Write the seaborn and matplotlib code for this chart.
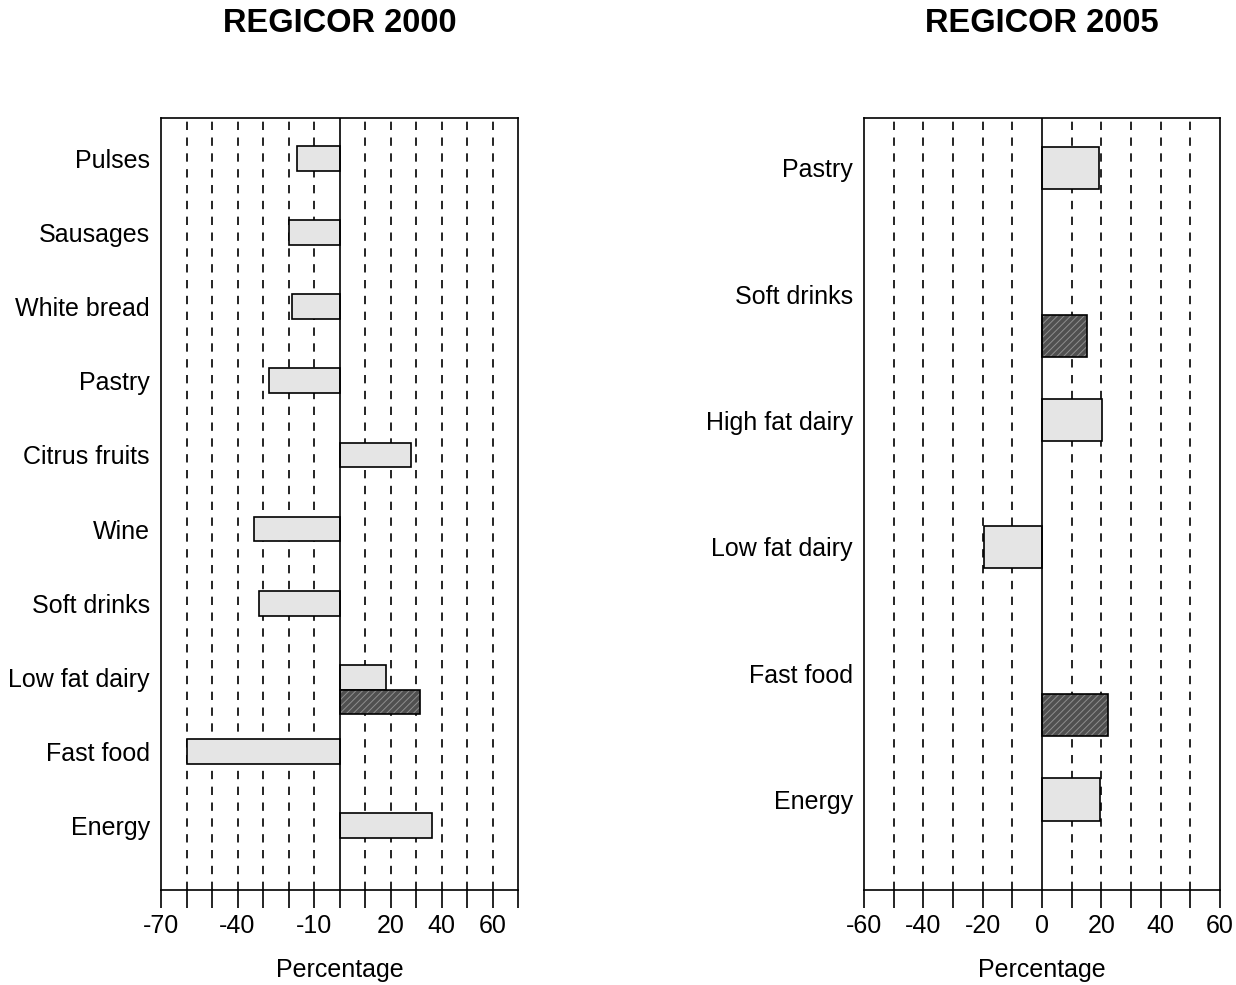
import numpy as np
import pandas as pd
import matplotlib
matplotlib.use("Agg")
import matplotlib.pyplot as plt
import matplotlib.colors as mcolors
import seaborn as sns

nan = np.nan

# ---- data -------------------------------------------------------------
cats_2000 = ["Pulses", "Sausages", "White bread", "Pastry", "Citrus fruits",
             "Wine", "Soft drinks", "Low fat dairy", "Fast food", "Energy"]
light_2000 = [-16.6, -19.7, -18.6, -27.8, 28.0, -33.5, -31.5, 18.4, -60.0, 36.4]
dark_2000 = [nan, nan, nan, nan, nan, nan, nan, 31.5, nan, nan]

cats_2005 = ["Pastry", "Soft drinks", "High fat dairy", "Low fat dairy",
             "Fast food", "Energy"]
light_2005 = [19.3, nan, 20.3, -19.7, nan, 19.4]
dark_2005 = [nan, 15.1, nan, nan, 22.4, nan]

ticks_2000 = [-70, -60, -50, -40, -30, -20, -10, 0, 10, 20, 30, 40, 50, 60, 70]
ticklabels_2000 = ["-70", "", "", "-40", "", "", "-10", "", "", "20", "", "40", "", "60", ""]
ticks_2005 = [-60, -50, -40, -30, -20, -10, 0, 10, 20, 30, 40, 50, 60]
ticklabels_2005 = ["-60", "", "-40", "", "-20", "", "0", "", "20", "", "40", "", "60"]

titles = ["REGICOR 2000", "REGICOR 2005"]
series_names = ["light", "dark"]

# ---- style ------------------------------------------------------------
sns.set_style("white")
plt.rcParams["font.family"] = ["Liberation Sans", "DejaVu Sans"]
plt.rcParams["hatch.linewidth"] = 0.7
plt.rcParams["text.color"] = "black"
plt.rcParams["axes.labelcolor"] = "black"
plt.rcParams["xtick.color"] = "black"
plt.rcParams["ytick.color"] = "black"

LIGHT = "#e5e5e5"
DARK = "#505050"
HATCH_COL = "#8f8f8f"


def make_df(cats, light, dark):
    rows = []
    for c, l, d in zip(cats, light, dark):
        if not np.isnan(l):
            rows.append((c, "light", l))
        if not np.isnan(d):
            rows.append((c, "dark", d))
    return pd.DataFrame(rows, columns=["category", "series", "value"])


fig = plt.figure(figsize=(12.36, 9.85), dpi=100)
ax1 = fig.add_axes([161 / 1236, 95 / 985, 357 / 1236, 772 / 985])
ax2 = fig.add_axes([864 / 1236, 95 / 985, 356 / 1236, 772 / 985])

panels = [
    (ax1, cats_2000, light_2000, dark_2000, ticks_2000, ticklabels_2000, (9.70, -0.71)),
    (ax2, cats_2005, light_2005, dark_2005, ticks_2005, ticklabels_2005, (5.55, -0.56)),
]

for (ax, cats, light, dark, ticks, tlabels, ylim), title in zip(panels, titles):
    df = make_df(cats, light, dark)
    sns.barplot(data=df, x="value", y="category", hue="series",
                order=cats, hue_order=series_names,
                palette={"light": LIGHT, "dark": DARK},
                orient="y", dodge=True, width=2 / 3, errorbar=None,
                edgecolor="black", linewidth=1.2, legend=False,
                saturation=1, ax=ax, zorder=2)
    dark_rgba = mcolors.to_rgba(DARK)
    for p in ax.patches:
        fc = p.get_facecolor()
        if np.allclose(fc[:3], dark_rgba[:3], atol=0.02):
            p.set_hatch("/////")
            p._hatch_color = mcolors.to_rgba(HATCH_COL)
            p.stale = True

    # dashed reference lines and the solid zero line
    for v in ticks[1:-1]:
        if v == 0:
            ax.axvline(v, color="black", lw=1.2, zorder=3)
        else:
            ax.axvline(v, color="black", lw=1.2, ls=(0, (5, 4.5)), zorder=0.5)

    ax.set_xlim(ticks[0], ticks[-1])
    ax.set_ylim(*ylim)
    ax.set_xticks(ticks)
    ax.set_xticklabels(tlabels, fontsize=18, color="black")
    ax.set_yticks(np.arange(len(cats)) - 1 / 6)
    ax.set_yticklabels(cats, fontsize=18, color="black")
    ax.tick_params(axis="x", direction="out", length=13, width=1.2, pad=4,
                   colors="black", bottom=True)
    ax.tick_params(axis="y", length=0, pad=8, colors="black")
    for s in ax.spines.values():
        s.set_visible(True)
        s.set_linewidth(1.2)
        s.set_color("black")
    ax.set_ylabel("")
    ax.set_xlabel("Percentage", fontsize=18, color="black")
    ax.xaxis.set_label_coords(0.5, -0.1036)
    ax.xaxis.label.set_verticalalignment("center")

    pos = ax.get_position()
    fig.text(pos.x0 + pos.width / 2, 1 - 24 / 985, title, ha="center", va="center",
             fontsize=23.5, fontweight="bold", color="black")

fig.savefig("out.png", dpi=100)
